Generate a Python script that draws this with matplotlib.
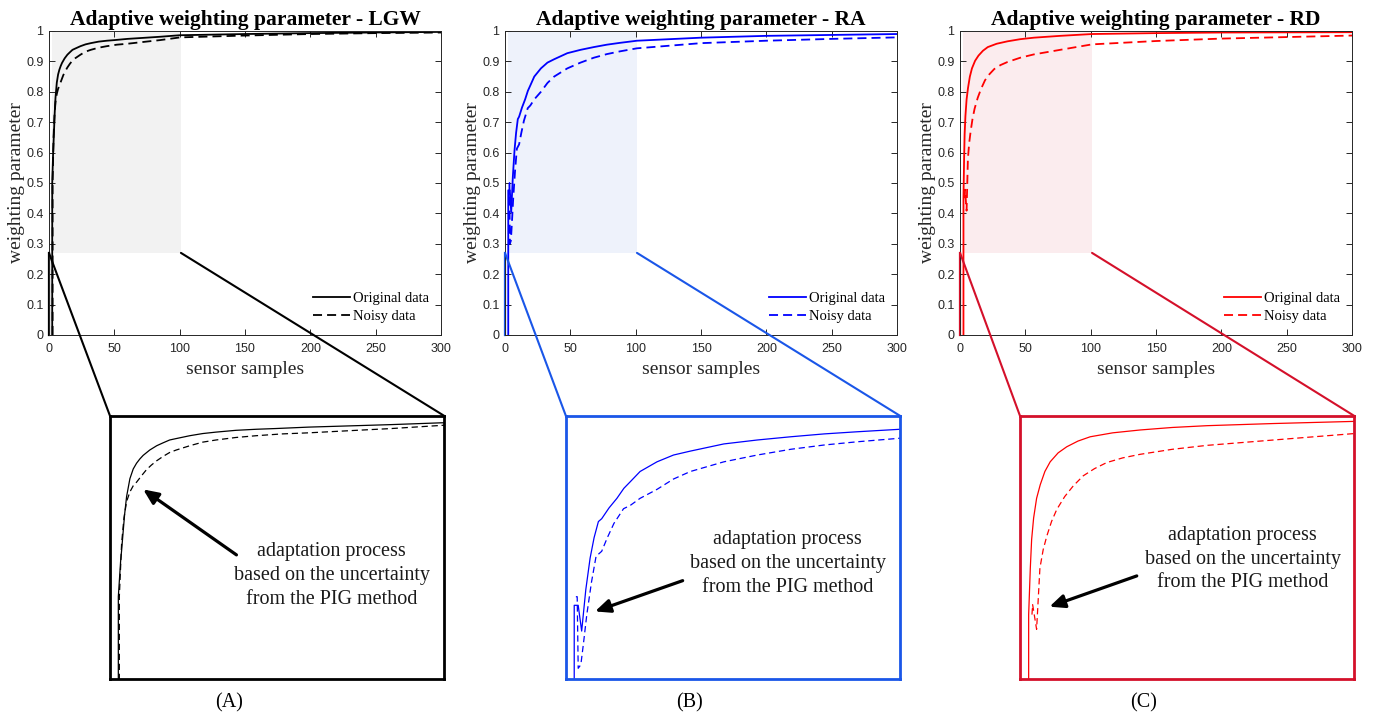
import matplotlib
matplotlib.use("Agg")
import matplotlib.pyplot as plt
from matplotlib.patches import Rectangle, ConnectionPatch

# values, one set per panel
panel_titles = ["Adaptive weighting parameter - LGW",
                "Adaptive weighting parameter - RA",
                "Adaptive weighting parameter - RD"]
panel_tags = ["(A)", "(B)", "(C)"]

lgw_x_orig = [2.5, 2.5, 3.2, 3.5, 3.9, 4.4, 5.0, 6.0, 7.0, 8.0, 9.0, 10, 12, 14.1, 16, 18, 20, 24.1, 28, 32, 38, 44.2, 50, 60, 74.4, 85, 100, 150, 200, 250, 300]
lgw_y_orig = [0, 0.5, 0.6, 0.63, 0.675, 0.73, 0.78, 0.83, 0.857, 0.873, 0.885, 0.895, 0.91, 0.922, 0.93, 0.938, 0.942, 0.95, 0.956, 0.96, 0.965, 0.968, 0.97, 0.974, 0.978, 0.981, 0.986, 0.99, 0.993, 0.995, 0.997]
lgw_x_noisy = [2.8, 2.8, 3.5, 4.2, 5.0, 6.0, 7.0, 8.0, 9.5, 11, 12.5, 14.1, 16, 18, 20, 24.1, 28, 32, 38, 44.2, 52, 60, 74.4, 85, 100.5, 150, 200, 250, 300]
lgw_y_noisy = [0, 0.5, 0.65, 0.72, 0.766, 0.793, 0.81, 0.82, 0.838, 0.855, 0.868, 0.88, 0.892, 0.903, 0.91, 0.922, 0.932, 0.938, 0.945, 0.95, 0.955, 0.958, 0.965, 0.97, 0.979, 0.985, 0.99, 0.993, 0.995]

ra_x_orig = [2.5, 2.5, 3.7, 4.75, 6.0, 7.3, 8.5, 9.8, 10.8, 13, 15.4, 17.5, 19.5, 22.4, 27.5, 32.5, 37.6, 47.7, 57.8, 67.9, 78, 88, 101, 150, 200, 250, 300]
ra_y_orig = [0, 0.476, 0.476, 0.404, 0.52, 0.608, 0.665, 0.71, 0.718, 0.748, 0.775, 0.803, 0.822, 0.85, 0.877, 0.896, 0.907, 0.927, 0.938, 0.947, 0.955, 0.961, 0.968, 0.978, 0.984, 0.987, 0.99]
ra_x_noisy = [3.0, 3.4, 3.7, 4.5, 5.3, 6.3, 7.7, 9.1, 10.8, 12.5, 14.5, 17.4, 19.4, 22.4, 27.5, 32.5, 37.6, 47.7, 57.8, 67.9, 78, 88, 101, 150, 200, 250, 300]
ra_y_noisy = [0.5, 0.5, 0.30, 0.31, 0.37, 0.45, 0.54, 0.613, 0.627, 0.665, 0.705, 0.746, 0.755, 0.775, 0.80, 0.829, 0.85, 0.877, 0.896, 0.912, 0.924, 0.933, 0.943, 0.96, 0.968, 0.974, 0.979]

rd_x_orig = [2.6, 2.6, 3.1, 3.5, 4.1, 5.0, 6.1, 7.5, 9.1, 11.5, 14.1, 17.5, 21.2, 28, 36.3, 46, 56.5, 76.6, 101, 150, 200, 300]
rd_y_orig = [0, 0.45, 0.58, 0.66, 0.72, 0.775, 0.813, 0.85, 0.877, 0.902, 0.919, 0.935, 0.947, 0.958, 0.966, 0.973, 0.978, 0.984, 0.99, 0.993, 0.995, 0.996]
rd_x_noisy = [3.6, 3.8, 5.0, 6.0, 7.0, 8.1, 9.5, 11.1, 13.5, 16.1, 19.1, 22.5, 26.2, 31, 36.3, 46, 56.5, 76.6, 101, 150, 200, 250, 300]
rd_y_noisy = [0.45, 0.478, 0.409, 0.58, 0.632, 0.67, 0.71, 0.744, 0.78, 0.81, 0.838, 0.858, 0.875, 0.888, 0.898, 0.912, 0.923, 0.938, 0.956, 0.967, 0.975, 0.98, 0.985]

x_ticks = [0, 50, 100, 150, 200, 250, 300]
y_ticks = [0, 0.1, 0.2, 0.3, 0.4, 0.5, 0.6, 0.7, 0.8, 0.9, 1]
y_tick_labels = ["0", "0.1", "0.2", "0.3", "0.4", "0.5", "0.6", "0.7", "0.8", "0.9", "1"]

zoom_x = (2.5, 101)
zoom_y = (0.27, 1)

series = [
    (lgw_x_orig, lgw_y_orig, lgw_x_noisy, lgw_y_noisy),
    (ra_x_orig, ra_y_orig, ra_x_noisy, ra_y_noisy),
    (rd_x_orig, rd_y_orig, rd_x_noisy, rd_y_noisy),
]
line_colors = ["black", "#0000ff", "#ff0000"]
frame_colors = ["black", "#1a56e8", "#d4102a"]
shade_colors = ["#f2f2f2", "#eef2fb", "#fbecee"]

# layout (figure fractions)
main_left = [0.0355, 0.3662, 0.6962]
main_w, main_b, main_h = 0.2843, 0.5341, 0.4228
ins_left = [0.0798, 0.4104, 0.7397]
ins_w, ins_b, ins_h = 0.2425, 0.0556, 0.3658
arrow_tip = [(0.099, 0.721), (0.087, 0.257), (0.088, 0.275)]
arrow_tail = [(0.378, 0.472), (0.349, 0.374), (0.349, 0.392)]
note_pos = [(0.663, 0.394), (0.663, 0.439), (0.666, 0.456)]
tag_x = [0.166, 0.5, 0.829]

serif = "Liberation Serif"
sans = "Liberation Sans"

fig = plt.figure(figsize=(13.79, 7.19), dpi=100)

for i in range(3):
    xo, yo, xn, yn = series[i]
    lc = line_colors[i]
    fc = frame_colors[i]

    ax = fig.add_axes([main_left[i], main_b, main_w, main_h])
    ax.add_patch(Rectangle((zoom_x[0], zoom_y[0]), zoom_x[1] - zoom_x[0], zoom_y[1] - zoom_y[0],
                           facecolor=shade_colors[i], edgecolor="none", zorder=0))
    ax.plot(xo, yo, color=lc, lw=1.3, label="Original data")
    ax.plot(xn, yn, color=lc, lw=1.3, ls=(0, (5, 2.8)), label="Noisy data")
    ax.plot([0.3, 0.3], [0, zoom_y[0]], color=fc, lw=1.6, clip_on=False)
    ax.set_xlim(0, 300)
    ax.set_ylim(0, 1)
    ax.set_xticks(x_ticks)
    ax.set_yticks(y_ticks)
    ax.set_yticklabels(y_tick_labels)
    ax.tick_params(direction="in", top=True, right=True, length=4, width=0.7,
                   colors="#262626", labelsize=9, pad=4)
    ax.tick_params(axis="x", pad=6)
    for lab in ax.get_xticklabels() + ax.get_yticklabels():
        lab.set_fontfamily(sans)
    for sp in ax.spines.values():
        sp.set_color("#262626")
        sp.set_linewidth(0.7)
    ax.set_title(panel_titles[i], fontfamily=serif, fontweight="bold", fontsize=15.5, pad=4)
    ax.set_xlabel("sensor samples", fontfamily=serif, fontsize=14, color="#262626", labelpad=4)
    ax.set_ylabel("weighting parameter", fontfamily=serif, fontsize=14, color="#262626", labelpad=1)
    ax.legend(loc="lower right", bbox_to_anchor=(0.985, 0.02), frameon=False,
              prop={"family": serif, "size": 10.5}, handlelength=2.5, handletextpad=0.25,
              labelspacing=0.3, borderaxespad=0)

    ins = fig.add_axes([ins_left[i], ins_b, ins_w, ins_h])
    ins.plot(xo, yo, color=lc, lw=0.9)
    ins.plot(xn, yn, color=lc, lw=0.9, ls=(0, (5, 3)))
    ins.set_xlim(0, zoom_x[1])
    ins.set_ylim(zoom_y[0], zoom_y[1] + 0.005)
    ins.set_xticks([])
    ins.set_yticks([])
    for sp in ins.spines.values():
        sp.set_color(fc)
        sp.set_linewidth(2)
    ins.annotate("", xy=arrow_tip[i], xycoords="axes fraction",
                 xytext=arrow_tail[i], textcoords="axes fraction",
                 arrowprops=dict(arrowstyle="-|>,head_length=0.9,head_width=0.4",
                                 color="black", lw=2.3, shrinkA=0, shrinkB=0))
    ins.text(note_pos[i][0], note_pos[i][1],
             "adaptation process\nbased on the uncertainty\nfrom the PIG method",
             transform=ins.transAxes, ha="center", va="center", fontfamily=serif,
             fontsize=14.5, linespacing=1.33, color="#1a1a1a")

    for xa, xb in [(0, 0), (zoom_x[1], 1)]:
        con = ConnectionPatch(xyA=(xa, zoom_y[0]), coordsA=ax.transData,
                              xyB=(xb, 1), coordsB=ins.transAxes,
                              color=fc, lw=1.5)
        fig.add_artist(con)

    fig.text(tag_x[i], 0.022, panel_tags[i], ha="center", va="center",
             fontfamily=serif, fontsize=14.5)

fig.savefig("out.png", dpi=100)
